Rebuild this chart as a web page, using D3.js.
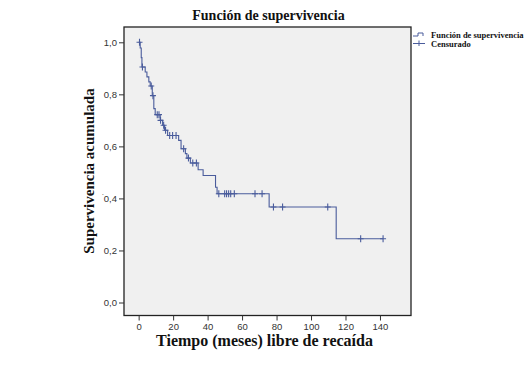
<!DOCTYPE html>
<html>
<head>
<meta charset="utf-8">
<script src="https://cdn.jsdelivr.net/npm/d3@7"></script>
<style>
  body { margin: 0; background: #fff; }
</style>
</head>
<body>
<div id="chart"></div>
<script>
const width = 528;
const height = 365;
const margin = { top: 27, right: 117, bottom: 50, left: 124 };

// Kaplan-Meier steps (time in months, survival after the drop)
const eventTimes = [0.9, 1.5, 1.9, 3.8, 4.8, 5.9, 6.7, 7.9, 8.8, 9.6, 12.5, 13.9, 15, 16.8, 23.2, 24.6, 27.1, 28, 30, 34.5, 37.4, 44.6, 45.5, 75.7, 114.6];
const survival = [0.978, 0.941, 0.905, 0.886, 0.867, 0.848, 0.832, 0.795, 0.745, 0.722, 0.70, 0.681, 0.662, 0.642, 0.623, 0.591, 0.572, 0.555, 0.536, 0.51, 0.488, 0.443, 0.418, 0.367, 0.245];
const censorTimes = [0.5, 2.2, 7.3, 8.3, 10.8, 11.8, 12.7, 14.5, 15.6, 18, 19.7, 21.7, 26.1, 28.9, 31.4, 33.5, 46.5, 49.9, 51, 52.2, 53.4, 55.5, 67.5, 71.6, 78.2, 83.5, 109.7, 128.8, 141.8];
const xTicks = [0, 20, 40, 60, 80, 100, 120, 140];
const yTicks = [0, 0.2, 0.4, 0.6, 0.8, 1.0];

const lineColor = "#4a5c9c";
const serif = "'Liberation Serif', 'Times New Roman', serif";
const sans = "'Liberation Sans', Arial, sans-serif";

const svg = d3.select("#chart")
    .append("svg")
    .attr("width", width)
    .attr("height", height);

const x = d3.scaleLinear().domain([-8.5, 158]).range([margin.left, width - margin.right]);
const y = d3.scaleLinear().domain([0, 1]).range([302.5, 42.3]);

const plotTop = margin.top;
const plotBottom = height - margin.bottom + 0.5;

// plot background
svg.append("rect")
    .attr("x", margin.left)
    .attr("y", plotTop)
    .attr("width", width - margin.right - margin.left)
    .attr("height", plotBottom - plotTop)
    .attr("fill", "#f0f0f0")
    .attr("stroke", "#222")
    .attr("stroke-width", 1.3);

// build step points
const lastTime = d3.max(censorTimes);
const steps = [[0, 1]];
let cur = 1;
eventTimes.forEach((t, i) => {
    steps.push([t, cur]);
    cur = survival[i];
    steps.push([t, cur]);
});
steps.push([lastTime, cur]);

const survAt = t => {
    let s = 1;
    eventTimes.forEach((e, i) => { if (e <= t) s = survival[i]; });
    return s;
};

svg.append("path")
    .datum(steps)
    .attr("d", d3.line().x(d => x(d[0])).y(d => y(d[1])))
    .attr("fill", "none")
    .attr("stroke", lineColor)
    .attr("stroke-width", 1.1);

// censor marks
svg.selectAll("path.censor")
    .data(censorTimes)
    .enter()
    .append("path")
    .attr("class", "censor")
    .attr("d", d => {
        const cx = x(d), cy = y(survAt(d));
        return `M${cx - 3},${cy}H${cx + 3}M${cx},${cy - 3.5}V${cy + 3.5}`;
    })
    .attr("stroke", lineColor)
    .attr("stroke-width", 1.1);

// x axis
const xAxis = svg.append("g")
    .attr("transform", `translate(0,${plotBottom})`)
    .call(d3.axisBottom(x).tickValues(xTicks).tickSize(5).tickSizeOuter(0).tickPadding(3));
xAxis.select(".domain").remove();
xAxis.selectAll("line").attr("stroke", "#333");
xAxis.selectAll("text")
    .attr("font-family", sans)
    .attr("font-size", 9.5)
    .attr("fill", "#333");

// y axis
const fmt = d => d3.format(".1f")(d).replace(".", ",");
const yAxis = svg.append("g")
    .attr("transform", `translate(${margin.left},0)`)
    .call(d3.axisLeft(y).tickValues(yTicks).tickFormat(fmt).tickSize(5).tickSizeOuter(0).tickPadding(2));
yAxis.select(".domain").remove();
yAxis.selectAll("line").attr("stroke", "#333");
yAxis.selectAll("text")
    .attr("font-family", sans)
    .attr("font-size", 9.5)
    .attr("fill", "#333");

// title
svg.append("text")
    .attr("x", 268.5)
    .attr("y", 20)
    .attr("text-anchor", "middle")
    .attr("font-family", serif)
    .attr("font-weight", "bold")
    .attr("font-size", 14)
    .attr("fill", "#111")
    .text("Función de supervivencia");

// x label
svg.append("text")
    .attr("x", 264.5)
    .attr("y", 346)
    .attr("text-anchor", "middle")
    .attr("font-family", serif)
    .attr("font-weight", "bold")
    .attr("font-size", 16)
    .attr("fill", "#111")
    .text("Tiempo (meses) libre de recaída");

// y label
svg.append("text")
    .attr("transform", "translate(94,171) rotate(-90)")
    .attr("text-anchor", "middle")
    .attr("font-family", serif)
    .attr("font-weight", "bold")
    .attr("font-size", 15)
    .attr("fill", "#111")
    .text("Supervivencia acumulada");

svg.append("text")
    .attr("x", 102)
    .attr("y", 195)
    .attr("font-family", serif)
    .attr("font-size", 7)
    .attr("fill", "#333")
    .text(".");

// legend
const legend = svg.append("g").attr("transform", "translate(413,36)");
legend.append("path")
    .attr("d", "M0,0H5V-3H10V0")
    .attr("fill", "none")
    .attr("stroke", lineColor)
    .attr("stroke-width", 1);
legend.append("path")
    .attr("d", "M0,7.5H12M6,4.5V10")
    .attr("stroke", lineColor)
    .attr("stroke-width", 1);
legend.selectAll("text")
    .data(["Función de supervivencia", "Censurado"])
    .enter()
    .append("text")
    .attr("x", 18)
    .attr("y", (d, i) => i * 9.5 + 1.5)
    .attr("font-family", serif)
    .attr("font-weight", "bold")
    .attr("font-size", 8.5)
    .attr("fill", "#111")
    .text(d => d);
</script>
</body>
</html>
